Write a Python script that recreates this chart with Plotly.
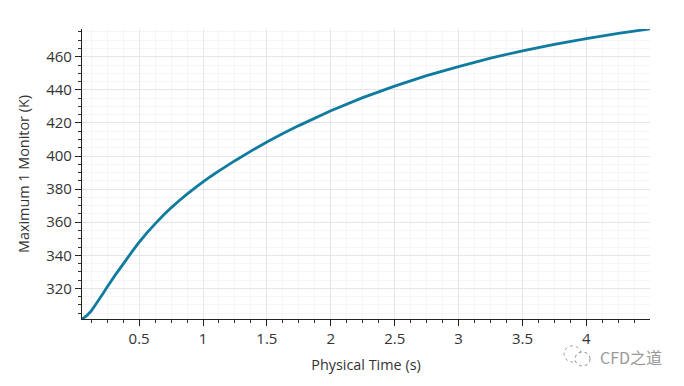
import plotly.graph_objects as go

time_s = [0.053, 0.07, 0.09, 0.11, 0.125, 0.156, 0.1875, 0.22, 0.25, 0.3125, 0.375, 0.4375, 0.5, 0.5625, 0.625,
          0.6875, 0.75, 0.8125, 0.875, 0.9375, 1.0, 1.0625, 1.125, 1.25, 1.375, 1.5,
          1.625, 1.75, 2.0, 2.25, 2.5, 2.75, 3.0, 3.25, 3.5, 3.75, 4.0, 4.25, 4.498]
max_temp_k = [301.6, 302.3, 303.5, 305.1, 306.3, 309.8, 313.4, 317.2, 320.8, 328.0, 334.7, 341.5, 347.9, 353.7, 359.0,
              364.0, 368.7, 373.0, 377.0, 380.8, 384.4, 387.8, 391.0, 397.2, 403.0, 408.5,
              413.6, 418.4, 427.4, 435.3, 442.3, 448.6, 454.1, 459.2, 463.6, 467.5, 471.0, 474.1, 476.9]

# The page body has an 8px margin, so figure coordinates are screen coordinates minus 8.
OFF = 8
W, H = 684 - OFF, 386 - OFF
L, R, T, B = 81.5 - OFF, 650 - OFF, 28.5 - OFF, 319 - OFF

def px(x):
    return (x - OFF - L) / (R - L)

def py(y):
    return (B - (y - OFF)) / (B - T)

fig = go.Figure(go.Scatter(x=time_s, y=max_temp_k, mode="lines",
                           line=dict(color="#0f7c9f", width=2.8, shape="linear", simplify=False),
                           cliponaxis=False, hoverinfo="skip"))

font = dict(family="Open Sans", color="#333333")
fig.update_layout(
    width=W, height=H, autosize=False,
    margin=dict(l=L, r=W - R, t=T, b=H - B, pad=0, autoexpand=False),
    paper_bgcolor="white", plot_bgcolor="white", showlegend=False,
    font=dict(family="Open Sans", size=14, color="#333333"),
    xaxis=dict(range=[0.053, 4.498], tick0=0.5, dtick=0.5, ticks="outside", ticklen=6, tickwidth=1,
               tickcolor="#222222", showline=True, linecolor="#222222", linewidth=1.2,
               gridcolor="#e6e6e6", gridwidth=1.2, zeroline=False, automargin=False,
               tickfont=dict(size=15, **font),
               title=dict(text="Physical Time (s)", font=dict(size=14.4, **font), standoff=12),
               minor=dict(dtick=0.125, tick0=0, ticks="outside", ticklen=3, tickcolor="#333333",
                          showgrid=True, gridcolor="#f5f5f5", gridwidth=1)),
    yaxis=dict(range=[301.5, 476.8], tick0=300, dtick=20, ticks="outside", ticklen=6, tickwidth=1,
               tickcolor="#222222", showline=True, linecolor="#222222", linewidth=1.2,
               gridcolor="#e6e6e6", gridwidth=1.2, zeroline=False, automargin=False,
               tickfont=dict(size=15, **font),
               title=dict(text="Maximum 1 Monitor (K)", font=dict(size=14.4, **font), standoff=13),
               minor=dict(dtick=5, tick0=300, ticks="outside", ticklen=3, tickcolor="#333333",
                          showgrid=True, gridcolor="#f5f5f5", gridwidth=1)),
    annotations=[dict(text="CFD之道", xref="paper", yref="paper", x=px(630.5), y=py(357),
                      xanchor="center", yanchor="middle", showarrow=False,
                      font=dict(family="Noto Sans CJK SC", size=16, color="#9a9a9a"))],
    shapes=[
        dict(type="circle", xref="paper", yref="paper", x0=px(564), x1=px(581), y0=py(362), y1=py(346),
             line=dict(color="#9a9a9a", width=1, dash="dot"), fillcolor="white"),
        dict(type="circle", xref="paper", yref="paper", x0=px(575), x1=px(590), y0=py(366), y1=py(352),
             line=dict(color="#8a8a8a", width=1, dash="dot"), fillcolor="white"),
    ],
)

fig.write_html("out.html", config={"displayModeBar": False})
